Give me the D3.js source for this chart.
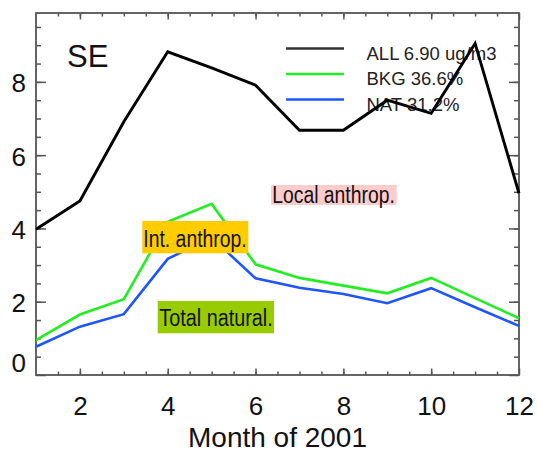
<!DOCTYPE html>
<html>
<head>
  <meta charset="utf-8">
  <script src="https://cdn.jsdelivr.net/npm/d3@7"></script>
  <style>
    body { margin: 0; background: #fff; }
    svg { display: block; font-family: "Liberation Sans", Arial, sans-serif; }
  </style>
</head>
<body>
  <svg id="chart"></svg>

  <script>
    // monthly values
    var months = [1, 2, 3, 4, 5, 6, 7, 8, 9, 10, 11, 12];
    var allValues = [3.98, 4.75, 6.91, 8.82, 8.38, 7.91, 6.68, 6.68, 7.50, 7.14, 9.05, 4.96];
    var bkgValues = [0.95, 1.65, 2.07, 4.18, 4.67, 3.02, 2.65, 2.44, 2.23, 2.65, 2.10, 1.55];
    var natValues = [0.77, 1.32, 1.66, 3.17, 3.75, 2.64, 2.38, 2.21, 1.96, 2.37, 1.85, 1.34];

    var seriesNames = ["ALL 6.90 ug/m3", "BKG 36.6%", "NAT 31.2%"];
    var seriesColors = ["#000000", "#22ee22", "#1f55ff"];

    var xTicks = [2, 4, 6, 8, 10, 12];
    var yTicks = [0, 2, 4, 6, 8];

    var width = 537;
    var height = 453;
    // plot frame (note: "top" is taken by window.top)
    var m = { left: 36, right: 519, top: 13, bottom: 375 };

    var x = d3.scaleLinear().domain([1, 12]).range([m.left, m.right]);
    var y = d3.scaleLinear().domain([0, 9.88]).range([m.bottom, m.top]);

    var svg = d3.select("#chart")
      .attr("width", width)
      .attr("height", height);

    var frameColor = "#555";

    // minor ticks every half unit on all sides
    var xMinor = d3.range(1.5, 12, 0.5);
    var yMinor = d3.range(0.5, 9.88, 0.5);

    function styleAxis(g) {
      g.select(".domain").remove();
      g.selectAll(".tick line").attr("stroke", frameColor).attr("stroke-width", 1.5);
    }

    // bottom
    svg.append("g")
      .attr("transform", `translate(0,${m.bottom})`)
      .call(d3.axisBottom(x).tickValues(xMinor).tickSize(-3.5).tickFormat(""))
      .call(styleAxis);
    svg.append("g")
      .attr("transform", `translate(0,${m.bottom})`)
      .call(d3.axisBottom(x).tickValues(xTicks).tickSize(-6.5).tickPadding(22))
      .call(styleAxis)
      .selectAll("text")
      .attr("fill", "#111")
      .style("font-size", "26px");

    // top
    svg.append("g")
      .attr("transform", `translate(0,${m.top})`)
      .call(d3.axisTop(x).tickValues(xMinor).tickSize(-3.5).tickFormat(""))
      .call(styleAxis);
    svg.append("g")
      .attr("transform", `translate(0,${m.top})`)
      .call(d3.axisTop(x).tickValues(xTicks).tickSize(-6.5).tickFormat(""))
      .call(styleAxis);

    // left
    svg.append("g")
      .attr("transform", `translate(${m.left},0)`)
      .call(d3.axisLeft(y).tickValues(yMinor).tickSize(-5).tickFormat(""))
      .call(styleAxis);
    var yAxis = svg.append("g")
      .attr("transform", `translate(${m.left},0)`)
      .call(d3.axisLeft(y).tickValues(yTicks).tickSize(-10).tickPadding(10))
      .call(styleAxis);
    yAxis.selectAll("text")
      .attr("fill", "#111")
      .attr("dy", d => d === 0 ? "-0.12em" : "0.38em")
      .style("font-size", "26px");

    // right
    svg.append("g")
      .attr("transform", `translate(${m.right},0)`)
      .call(d3.axisRight(y).tickValues(yMinor).tickSize(-5).tickFormat(""))
      .call(styleAxis);
    svg.append("g")
      .attr("transform", `translate(${m.right},0)`)
      .call(d3.axisRight(y).tickValues(yTicks).tickSize(-10).tickFormat(""))
      .call(styleAxis);

    // frame
    svg.append("rect")
      .attr("x", m.left)
      .attr("y", m.top)
      .attr("width", m.right - m.left)
      .attr("height", m.bottom - m.top)
      .attr("fill", "none")
      .attr("stroke", frameColor)
      .attr("stroke-width", 1.8);

    // axis title
    svg.append("text")
      .attr("x", (m.left + m.right) / 2)
      .attr("y", 447)
      .attr("text-anchor", "middle")
      .attr("fill", "#111")
      .style("font-size", "28px")
      .text("Month of 2001");

    // region label
    svg.append("text")
      .attr("x", 67)
      .attr("y", 66.5)
      .attr("fill", "#111")
      .style("font-size", "31px")
      .text("SE");

    // legend
    var legend = svg.append("g");
    seriesNames.forEach(function (name, i) {
      var ly = 48.5 + i * 25.5;
      legend.append("line")
        .attr("x1", 286).attr("x2", 344)
        .attr("y1", ly).attr("y2", ly)
        .attr("stroke", i === 0 ? "#333" : seriesColors[i])
        .attr("stroke-width", 2.5);
      legend.append("text")
        .attr("x", 366.5)
        .attr("y", ly + 11)
        .attr("fill", "#222")
        .style("font-size", "18.5px")
        .text(name);
    });

    // lines
    var series = [allValues, bkgValues, natValues];
    var line = d3.line()
      .x((d, i) => x(months[i]))
      .y(d => y(d));

    svg.append("g")
      .selectAll("path")
      .data(series)
      .join("path")
      .attr("fill", "none")
      .attr("stroke", (d, i) => seriesColors[i])
      .attr("stroke-width", (d, i) => i === 0 ? 2.9 : 2.6)
      .attr("stroke-linejoin", "miter")
      .attr("d", line);

    // annotation boxes
    var notes = [
      { text: "Local anthrop.", fill: "#ffcccc", box: [271, 185, 125.7, 20], tx: 272.3, ty: 202.5, tw: 122.5 },
      { text: "Int. anthrop.", fill: "#ffcc00", box: [142.3, 221, 106, 32.3], tx: 143.3, ty: 246.7, tw: 103.4 },
      { text: "Total natural.", fill: "#99cc00", box: [157.7, 301, 116.3, 32.3], tx: 159.3, ty: 326, tw: 113.4 }
    ];

    var noteG = svg.append("g")
      .selectAll("g")
      .data(notes)
      .join("g");

    noteG.append("rect")
      .attr("x", d => d.box[0])
      .attr("y", d => d.box[1])
      .attr("width", d => d.box[2])
      .attr("height", d => d.box[3])
      .attr("fill", d => d.fill);

    noteG.append("text")
      .attr("x", d => d.tx)
      .attr("y", d => d.ty)
      .attr("fill", "#111")
      .attr("textLength", d => d.tw)
      .attr("lengthAdjust", "spacingAndGlyphs")
      .style("font-family", "'Liberation Sans Narrow', 'Arial Narrow', 'Liberation Sans', sans-serif")
      .style("font-size", "23.5px")
      .text(d => d.text);
  </script>
</body>
</html>
